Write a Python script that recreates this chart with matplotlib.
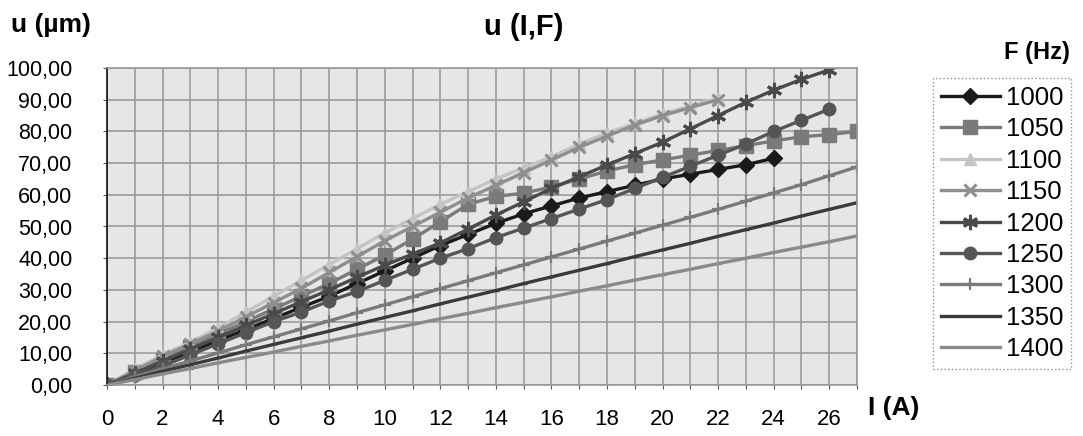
import matplotlib
matplotlib.use("Agg")
import matplotlib.pyplot as plt
from matplotlib.ticker import MultipleLocator, FuncFormatter

plt.rcParams['font.family'] = ['Liberation Sans', 'DejaVu Sans']

# ---- data ----
currents = list(range(28))
x_ticks = list(range(0, 27, 2))
y_ticks = list(range(0, 101, 10))

u1000 = [0, 3.5, 7, 10.5, 14, 17.5, 21, 24.5, 28, 32, 36, 40, 44, 47.5, 51,
         54, 56.5, 59, 61, 63, 65, 66.5, 68, 69.5, 71.5]
u1050 = [0, 4, 8, 12, 16, 20, 24, 28, 32, 36.5, 41, 46, 51.5, 57, 59.5, 60.5,
         62.5, 65, 67.5, 69.5, 71, 72.5, 74, 75.5, 77, 78.3, 79, 80]
u1100 = [0, 5, 9.5, 13.5, 18, 23, 28, 33, 38, 43, 48, 52.5, 57, 61, 65, 68.5,
         72, 76, 79.5, 82.5, 85.5, 88, 90.5]
u1150 = [0, 4.5, 9, 13, 17, 21.5, 26, 30.5, 35.5, 40.5, 45.5, 50, 54.5, 59, 63,
         67, 71, 75, 78.5, 82, 85, 87.5, 90]
u1200 = [0, 3.7, 7.5, 11.3, 15, 18.8, 22.5, 26.3, 30, 34, 37.8, 41.3, 44.8, 49.2,
         53.6, 57.8, 62, 65.7, 69.4, 73, 76.6, 80.8, 85, 89.2, 93, 96.4, 99.4]
u1250 = [0, 3, 6, 9.5, 13, 16.5, 20, 23, 26.5, 29.5, 33, 36.5, 40, 43, 46.5, 49.5,
         52.5, 55.5, 58.5, 62, 65.5, 69, 72.5, 76, 80, 83.5, 87]
u1300 = [0, 2.6, 5.1, 7.6, 10.1, 12.7, 15.2, 17.7, 20.2, 22.8, 25.3, 27.8, 30.4,
         32.9, 35.4, 37.9, 40.4, 42.9, 45.4, 47.9, 50.4, 52.9, 55.4, 58, 60.6,
         63.2, 66, 68.8]
u1350 = [0, 2.1, 4.3, 6.4, 8.5, 10.7, 12.8, 14.9, 17.0, 19.2, 21.3, 23.4, 25.6,
         27.7, 29.8, 32.0, 34.1, 36.2, 38.3, 40.5, 42.6, 44.7, 46.9, 49.0, 51.1,
         53.3, 55.4, 57.5]
u1400 = [0, 1.7, 3.5, 5.2, 7.0, 8.7, 10.4, 12.2, 13.9, 15.7, 17.4, 19.1, 20.9,
         22.6, 24.4, 26.1, 27.8, 29.6, 31.3, 33.1, 34.8, 36.5, 38.3, 40.0, 41.8,
         43.5, 45.2, 47.0]

freq_labels = ['1000', '1050', '1100', '1150', '1200', '1250', '1300', '1350', '1400']
series = [u1000, u1050, u1100, u1150, u1200, u1250, u1300, u1350, u1400]

styles = [
    dict(color='#1a1a1a', marker='D', ms=8),
    dict(color='#7a7a7a', marker='s', ms=10),
    dict(color='#c4c4c4', marker='^', ms=9),
    dict(color='#8e8e8e', marker='x', ms=9, mew=2.2),
    dict(color='#4a4a4a', marker=(6, 2, 0), ms=11, mew=2.2),
    dict(color='#555555', marker='o', ms=9),
    dict(color='#7a7a7a', marker='+', ms=9, mew=1.6),
    dict(color='#3a3a3a', marker='_', ms=4),
    dict(color='#8a8a8a', marker='_', ms=4),
]

W, H = 1083, 436
fig = plt.figure(figsize=(W / 100, H / 100), dpi=100)
L, R, T, B = 107, 857, 68, 385
ax = fig.add_axes([L / W, 1 - B / H, (R - L) / W, (B - T) / H])
ax.set_facecolor('#e6e6e6')

handles = []
for lab, vals, st in zip(freq_labels, series, styles):
    h, = ax.plot(currents[:len(vals)], vals, lw=2.4, label=lab, **st)
    handles.append(h)

ax.set_xlim(0, 27)
ax.set_ylim(0, 100)
ax.set_xticks(x_ticks)
ax.set_yticks(y_ticks)
ax.xaxis.set_minor_locator(MultipleLocator(1))
ax.yaxis.set_major_formatter(FuncFormatter(lambda v, p: f"{v:.2f}".replace('.', ',')))
ax.grid(True, which='both', axis='x', color='#9c9c9c', lw=1.2)
ax.grid(True, which='major', axis='y', color='#9c9c9c', lw=1.2)
ax.set_axisbelow(True)

ax.tick_params(axis='both', which='both', direction='out', length=3, width=0.8, color='#555555')
ax.tick_params(axis='y', labelsize=15.5, pad=22)
ax.tick_params(axis='x', labelsize=16, pad=14)

for s in ['top', 'right', 'bottom']:
    ax.spines[s].set_color('#9a9a9a')
    ax.spines[s].set_linewidth(1.2)
ax.spines['left'].set_color('#111111')
ax.spines['left'].set_linewidth(1.2)

fig.text(524 / W, 1 - 27 / H, 'u (I,F)', ha='center', va='center', fontsize=21, fontweight='bold')
fig.text(11 / W, 1 - 25 / H, 'u (µm)', ha='left', va='center', fontsize=19, fontweight='bold')
fig.text(868 / W, 1 - 408 / H, 'I (A)', ha='left', va='center', fontsize=19, fontweight='bold')
fig.text(1037 / W, 1 - 52 / H, 'F (Hz)', ha='center', va='center', fontsize=17, fontweight='bold')

leg = fig.legend(handles=handles, loc='upper left', bbox_to_anchor=(933 / W, 1 - 78 / H),
                 fontsize=18.5, frameon=True, fancybox=False, handlelength=2.3,
                 handletextpad=0.25, labelspacing=0.29, borderpad=0.3, borderaxespad=0)
leg.get_frame().set_edgecolor('#777777')
leg.get_frame().set_linestyle(':')
leg.get_frame().set_linewidth(1.0)

fig.savefig('out.png', dpi=100)
